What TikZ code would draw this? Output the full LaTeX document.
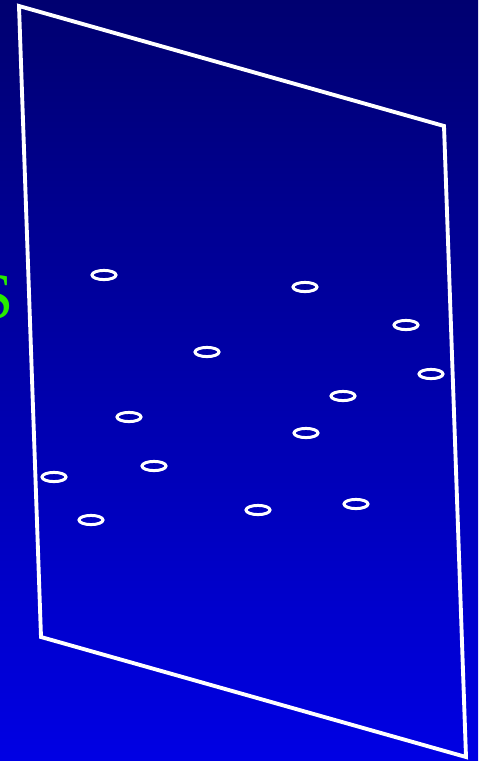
\documentclass[tikz,border=0pt]{standalone}
\usepackage{fontspec}
\setmainfont{Liberation Serif}
\usepackage{tikz}
\usetikzlibrary{calc}
\definecolor{skytop}{RGB}{0,0,112}
\definecolor{skybottom}{RGB}{0,0,228}
\definecolor{lettergreen}{RGB}{40,235,0}

\begin{document}
\begin{tikzpicture}[x=0.02cm, y=-0.02cm,
  frame/.style={draw=white, line width=2.2pt, line join=miter},
  hole/.style={draw=white, line width=1.7pt},
  letter/.style={font=\fontsize{37}{37}\selectfont, text=lettergreen, inner sep=0pt}
]
  % background
  \shade[top color=skytop, bottom color=skybottom] (0,0) rectangle (478,761);
  \useasboundingbox (0,0) rectangle (478,761);

  % the plate
  \coordinate (tl) at (19,6);
  \coordinate (tr) at (444,126);
  \coordinate (br) at (466,757);
  \coordinate (bl) at (41,637);
  \draw[frame] (tl) -- (tr) -- (br) -- (bl) -- cycle;

  % label cut at the edge
  \node[letter, anchor=east] (lbl) at (14,297) {S};

  % holes
  \foreach \hx/\hy in {104/275, 305/287, 406/325, 207/352, 431/374,
                       343/396, 129/417, 306/433, 154/466, 54/477,
                       91/520, 258/510, 356/504}
    \draw[hole] (\hx,\hy) ellipse [x radius=12, y radius=4.6];
\end{tikzpicture}
\end{document}
